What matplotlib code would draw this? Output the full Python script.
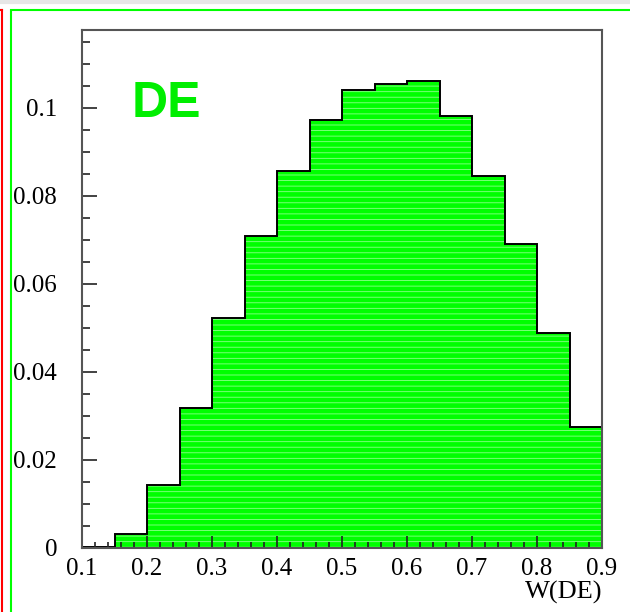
import numpy as np
import matplotlib
matplotlib.use('Agg')
import matplotlib.pyplot as plt
from matplotlib.lines import Line2D
from matplotlib.patches import Rectangle
from matplotlib.ticker import MultipleLocator

# bin edges and contents of the W(DE) histogram
bin_edges = [0.10, 0.15, 0.20, 0.25, 0.30, 0.35, 0.40, 0.45, 0.50,
             0.55, 0.60, 0.65, 0.70, 0.75, 0.80, 0.85, 0.90]
bin_values = [0.0002, 0.0031, 0.0142, 0.0318, 0.0523, 0.0709, 0.0857, 0.0973,
              0.1040, 0.1055, 0.1060, 0.0982, 0.0846, 0.0690, 0.0489, 0.0276]
x_label = "W(DE)"
panel_label = "DE"

plt.rcParams['font.family'] = ['Liberation Serif', 'DejaVu Serif']
plt.rcParams['hatch.linewidth'] = 0.6

fig = plt.figure(figsize=(6.3, 6.12), dpi=100)
ax = fig.add_axes([0.1302, 0.1046, 0.8254, 0.8464])

# green fill with a faint line texture, then black outline
ax.stairs(bin_values, bin_edges, fill=True, facecolor='#00ff00', edgecolor='none', linewidth=0)
ax.stairs(bin_values, bin_edges, fill=True, facecolor='none', edgecolor='#8cff8c',
          hatch='---', linewidth=0)
ax.stairs(bin_values, bin_edges, baseline=0, color='black', linewidth=1.4)
ax.plot([bin_edges[0], bin_edges[0]], [0, bin_values[0]], color='black', lw=1.4)

ax.set_xlim(0.1, 0.9)
ax.set_ylim(0, 0.1177)

ax.xaxis.set_major_locator(MultipleLocator(0.1))
ax.xaxis.set_minor_locator(MultipleLocator(0.02))
ax.yaxis.set_major_locator(MultipleLocator(0.02))
ax.yaxis.set_minor_locator(MultipleLocator(0.005))
ax.xaxis.set_major_formatter(plt.FuncFormatter(lambda v, p: f"{v:g}"))
ax.yaxis.set_major_formatter(plt.FuncFormatter(lambda v, p: f"{v:g}"))

ax.tick_params(which='both', direction='in', top=False, right=False, color='#222222',
               width=1.2, labelsize=18)
ax.tick_params(axis='x', which='major', length=9, pad=7)
ax.tick_params(axis='x', which='minor', length=4.5)
ax.tick_params(axis='y', which='major', length=11, pad=18)
ax.tick_params(axis='y', which='minor', length=6)
for s in ax.spines.values():
    s.set_color('#555555')
    s.set_linewidth(1.5)

ax.text(0.177, 0.098, panel_label, color='#00ee00', fontsize=36, fontweight='bold',
        family=['Liberation Sans', 'DejaVu Sans'])

ax.set_xlabel(x_label, fontsize=19, loc='right', labelpad=1)

# canvas frame like the original page
fig.add_artist(Line2D([0, 1], [1 - 1.5 / 612] * 2, color='#e6e6e6', lw=3))
fig.add_artist(Rectangle((11 / 630, -0.1), 1.2, (612 - 9.5) / 612 + 0.1, fill=False,
                         edgecolor='#00ff00', lw=1.5))
fig.add_artist(Line2D([2.2 / 630] * 2, [0, (612 - 9.5) / 612], color='#ff0000', lw=1.5))
fig.add_artist(Line2D([0, 2.2 / 630], [(612 - 9.5) / 612] * 2, color='#ff0000', lw=1.5))

fig.savefig('out.png', dpi=100)
